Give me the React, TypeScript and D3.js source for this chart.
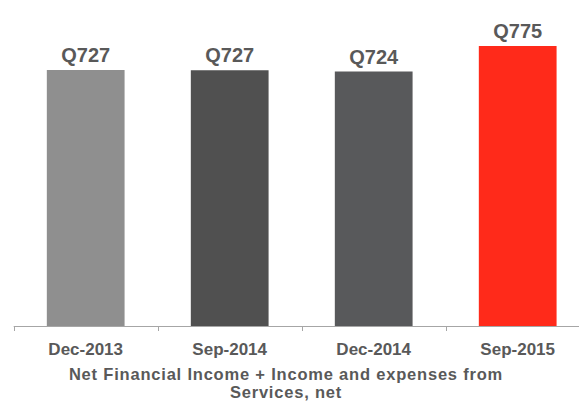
import React, { useEffect, useRef } from 'react';
import * as d3 from 'd3';

const categories = ['Dec-2013', 'Sep-2014', 'Dec-2014', 'Sep-2015'];
const values = [727, 726.5, 724, 775];
const valueLabels = ['Q727', 'Q727', 'Q724', 'Q775'];
const barColors = ['#8f8f8f', '#505050', '#58595b', '#ff2a1a'];
const titleLines = ['Net Financial Income + Income and expenses from', 'Services, net'];

const W = 579;
const H = 403;
const FONT = '"Liberation Sans", Arial, sans-serif';

export default function App() {
  const ref = useRef<SVGSVGElement>(null);

  useEffect(() => {
    const svg = d3.select(ref.current);
    svg.selectAll('*').remove();

    const baseY = 326;
    const x = d3.scaleBand<string>()
      .domain(categories)
      .range([13.7, 13.7 + 144 * 4])
      .paddingInner(0.46)
      .paddingOuter(0.23);

    // axis doesn't start at zero in the original
    const y = d3.scaleLinear().domain([215, 775]).range([baseY, 46]);

    svg.selectAll('rect.bar')
      .data(values)
      .enter()
      .append('rect')
      .attr('class', 'bar')
      .attr('x', (d, i) => x(categories[i])!)
      .attr('y', d => y(d))
      .attr('width', x.bandwidth())
      .attr('height', d => baseY - y(d))
      .attr('fill', (d, i) => barColors[i]);

    svg.selectAll('text.val')
      .data(values)
      .enter()
      .append('text')
      .attr('class', 'val')
      .attr('x', (d, i) => x(categories[i])! + x.bandwidth() / 2)
      .attr('y', d => y(d) - 8)
      .attr('text-anchor', 'middle')
      .attr('font-family', FONT)
      .attr('font-weight', 'bold')
      .attr('font-size', 20)
      .attr('fill', '#595959')
      .text((d, i) => valueLabels[i]);

    // category axis
    const axisG = svg.append('g');
    axisG.append('line')
      .attr('x1', 13.7).attr('x2', 13.7 + 144 * 4)
      .attr('y1', baseY + 0.5).attr('y2', baseY + 0.5)
      .attr('stroke', '#a6a6a6').attr('stroke-width', 1);
    const step = x.step();
    const tickXs = d3.range(categories.length + 1).map(i => 13.7 + i * step);
    axisG.selectAll('line.tick')
      .data(tickXs)
      .enter()
      .append('line')
      .attr('class', 'tick')
      .attr('x1', d => Math.round(d) + 0.5).attr('x2', d => Math.round(d) + 0.5)
      .attr('y1', baseY).attr('y2', baseY + 5)
      .attr('stroke', '#a6a6a6');

    axisG.selectAll('text.cat')
      .data(categories)
      .enter()
      .append('text')
      .attr('class', 'cat')
      .attr('x', d => x(d)! + x.bandwidth() / 2)
      .attr('y', 355)
      .attr('text-anchor', 'middle')
      .attr('font-family', FONT)
      .attr('font-weight', 'bold')
      .attr('font-size', 17)
      .attr('fill', '#595959')
      .text(d => d);

    svg.selectAll('text.title')
      .data(titleLines)
      .enter()
      .append('text')
      .attr('class', 'title')
      .attr('x', 286)
      .attr('y', (d, i) => 380 + i * 18)
      .attr('text-anchor', 'middle')
      .attr('font-family', FONT)
      .attr('font-weight', 'bold')
      .attr('font-size', 16.5)
      .attr('letter-spacing', 0.8)
      .attr('fill', '#595959')
      .text(d => d);
  }, []);

  return (
    <svg ref={ref} width={W} height={H}
      style={{ position: 'absolute', left: 0, top: 0, background: '#fff' }} />
  );
}
